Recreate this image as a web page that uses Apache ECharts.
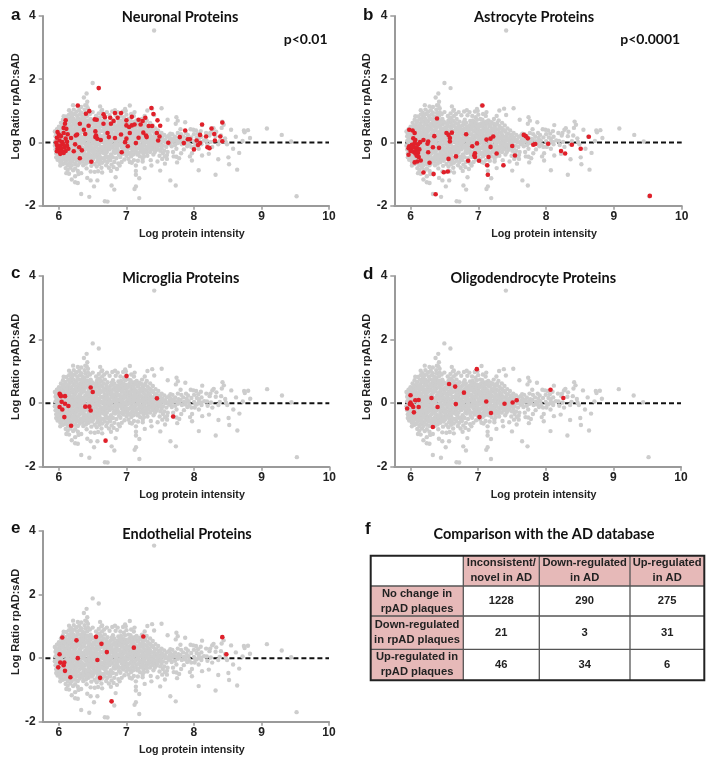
<!DOCTYPE html>
<html><head><meta charset="utf-8">
<style>html,body{margin:0;padding:0;background:#fff}#c{width:716px;height:766px}</style>
<script src="https://cdn.jsdelivr.net/npm/echarts@6/dist/echarts.min.js"></script>
</head><body><div id="c"></div>
<script>
const xTicks=[6,7,8,9,10];
const yTicks=[-2,0,2,4];
const panelLetters=['a','b','c','d','e'];
const panelTitles=['Neuronal Proteins','Astrocyte Proteins','Microglia Proteins','Oligodendrocyte Proteins','Endothelial Proteins'];
const greySparse=[[7.41,3.54],[6.5,1.88],[6.59,1.72],[6.41,1.55],[6.37,1.42],[6.42,1.29],[6.39,1.18],[6.21,1.18],[6.28,1.14],[6.33,1.12],[6.41,1.16],[6.61,1.14],[6.64,1.03],[7.05,1.17],[6.98,1.06],[7.12,.96],[7.31,1.01],[7.38,1.07],[7.52,1.08],[7.41,.87],[7.61,.72],[7.74,.8],[7.76,.69],[7.73,.59],[7.87,.64],[8.12,.55],[8.42,.66],[8.44,.56],[8.29,.45],[8.55,.4],[8.75,.32],[8.8,.39],[8.74,.38],[9.08,.44],[9.3,.24],[9.44,.03],[8.83,.14],[8.62,.18],[8.72,.05],[9.52,-1.7],[8.64,-.86],[8.32,-1.02],[8.07,-.88],[8.52,-.69],[8.51,-.47],[8.67,-.33],[8.58,-.2],[8.36,-.53],[8.22,-.36],[8.12,-.41],[7.97,-.57],[7.94,-.44],[7.65,-1.2],[7.73,-1.36],[7.19,-1.76],[7.14,-1.39],[7.12,-1.47],[7.14,-1.02],[7.19,-1.13],[7.14,-.9],[6.68,-1.86],[6.72,-1.87],[6.45,-1.72],[6.33,-1.63],[6.52,-1.39],[6.78,-1.36],[6.82,-1.49],[6.84,-1.1],[6.47,-1.2],[6.57,-1.2],[6.42,-1.12],[6.28,-1.28],[6.24,-1.26],[6.19,-1.17],[6.24,-1.07],[6.29,-1],[6.33,-.97],[6.15,-.99],[6.11,-.97],[6.1,-.81],[6.02,-.73],[6.63,-.8],[6.64,-.95],[6.74,-.8],[6.77,-.9],[6.53,-.93],[6.58,-.91],[6.47,-.92],[6.9,-.73],[7.14,-.73],[7.27,-.81],[7.37,-.73],[7.5,-.89],[7.46,-.6],[7.6,-.4],[7.75,-.63],[7.57,-.67],[7.05,-.62],[7.24,-.6]];
const greyDenseLeft=[[5.94,.35],[5.95,.2],[5.95,.05],[5.94,-.1],[5.95,-.22],[5.96,-.35],[5.96,-.47],[5.97,.42],[5.98,.28],[5.97,.12],[5.98,-.02],[5.97,-.18],[5.98,-.3],[5.99,-.44],[5.98,-.55],[6,.5],[6.01,.38],[6,.21],[6.01,.07],[6,-.08],[6.01,-.24],[6,-.38],[6.01,-.5],[6.02,-.62],[6.03,.62],[6.04,.45],[6.03,.3],[6.04,.14],[6.03,-.02],[6.04,-.16],[6.03,-.3],[6.05,-.44],[6.04,-.58],[6.06,-.68],[6.07,.83],[6.06,.72],[6.07,.55],[6.07,.38],[6.08,.22],[6.06,.06],[6.08,-.08],[6.07,-.24],[6.08,-.38],[6.07,-.52],[6.09,-.65],[6.11,.82],[6.1,.67],[6.11,.5],[6.11,.31],[6.1,.14],[6.11,-.03],[6.12,-.18],[6.1,-.32],[6.12,-.46],[6.11,-.58],[6.13,-.72],[6.13,-.87],[6.15,1.02],[6.15,.88],[6.14,.74],[6.15,.6],[6.14,.42],[6.15,.25],[6.14,.08],[6.16,-.1],[6.15,-.26],[6.14,-.4],[6.16,-.54],[6.15,-.66],[6.17,-.8],[6.18,.94],[6.18,.78],[6.19,.66],[6.18,.5],[6.19,.34],[6.18,.18],[6.19,.02],[6.18,-.14],[6.19,-.3],[6.18,-.46],[6.2,-.6],[6.19,-.72],[6.21,-.88],[6.22,1.04],[6.23,.9],[6.22,.74],[6.23,.58],[6.22,.42],[6.23,.26],[6.22,.1],[6.23,-.05],[6.22,-.22],[6.23,-.38],[6.22,-.52],[6.24,-.68],[6.24,-.82],[6.26,.97],[6.27,.84],[6.26,.68],[6.27,.52],[6.26,.36],[6.27,.18],[6.26,.03],[6.27,-.12],[6.26,-.28],[6.27,-.44],[6.26,-.58],[6.28,-.72],[6.28,-.9],[6.3,1.02],[6.31,.88],[6.3,.74],[6.31,.6],[6.3,.44],[6.31,.28],[6.3,.12],[6.31,-.02],[6.3,-.2],[6.31,-.35],[6.32,-.5],[6.31,-.64],[6.33,.94],[6.35,.82],[6.34,.66],[6.35,.5],[6.34,.33],[6.35,.16],[6.34,0],[6.35,-.16],[6.34,-.3],[6.36,-.44],[6.35,-.6],[6.36,-.72],[6.38,1.04],[6.39,.93],[6.38,.8],[6.39,.62],[6.38,.46],[6.39,.24],[6.38,.08],[6.4,-.08],[6.38,-.24],[6.4,-.38],[6.39,-.54],[6.4,-.67],[6.41,-.82],[6.43,1.08],[6.43,.96],[6.42,.84],[6.44,.7],[6.43,.55],[6.44,.38],[6.43,.2],[6.44,.02],[6.43,-.14],[6.44,-.3],[6.43,-.48],[6.44,-.62],[6.46,.9],[6.47,.74],[6.47,.58],[6.48,.42],[6.47,.24],[6.48,.08],[6.47,-.1],[6.48,-.26],[6.47,-.42],[6.49,-.58],[6.48,-.74],[6.5,.96],[6.51,.62],[6.51,.48],[6.52,.3],[6.51,.14],[6.52,-.04],[6.51,-.2],[6.52,-.36],[6.51,-.52],[6.53,-.68],[6.55,.84],[6.56,.7],[6.55,.52],[6.56,.36],[6.55,.18],[6.56,.02],[6.55,-.14],[6.57,-.3],[6.56,-.46],[6.57,-.6],[6.56,-.76],[6.59,.92],[6.6,.78],[6.59,.62],[6.6,.44],[6.59,.27],[6.6,.1],[6.59,-.06],[6.61,-.24],[6.6,-.4],[6.61,-.56],[6.6,-.68],[6.63,1],[6.64,.84],[6.63,.68],[6.64,.52],[6.63,.36],[6.64,.18],[6.63,.02],[6.65,-.14],[6.64,-.3],[6.66,-.5],[6.64,-.64],[6.67,.9],[6.68,.74],[6.67,.46],[6.68,.28],[6.67,.1],[6.68,-.08],[6.67,-.22],[6.69,-.38],[6.68,-.58],[6.7,-.72]];
const greyDenseRight=[[6.71,.96],[6.72,.66],[6.71,.5],[6.72,.36],[6.71,.2],[6.72,.04],[6.73,-.12],[6.71,-.3],[6.73,-.46],[6.72,-.62],[6.75,.86],[6.76,.54],[6.75,.4],[6.76,.26],[6.75,.08],[6.76,-.06],[6.75,-.22],[6.77,-.38],[6.76,-.56],[6.78,-.7],[6.79,.98],[6.8,.72],[6.79,.58],[6.8,.44],[6.79,.24],[6.8,.06],[6.79,-.14],[6.81,-.3],[6.8,-.47],[6.82,-.62],[6.81,-.78],[6.83,1.02],[6.84,.86],[6.83,.5],[6.85,.34],[6.83,.18],[6.84,.02],[6.85,-.16],[6.83,-.33],[6.85,-.5],[6.86,-.84],[6.87,.96],[6.88,.68],[6.87,.55],[6.88,.4],[6.87,.25],[6.88,.08],[6.89,-.07],[6.87,-.23],[6.89,-.4],[6.88,-.66],[6.91,.84],[6.92,.7],[6.91,.5],[6.93,.36],[6.91,.16],[6.92,0],[6.93,-.16],[6.91,-.46],[6.93,-.62],[6.95,.98],[6.96,.8],[6.95,.62],[6.96,.46],[6.97,.3],[6.95,.14],[6.96,-.02],[6.97,-.2],[6.95,-.36],[6.97,-.54],[6.99,1],[7,.88],[6.99,.58],[7,.42],[6.99,.26],[7.01,.08],[6.99,-.08],[7.01,-.26],[7,-.42],[7.03,.74],[7.04,.6],[7.03,.36],[7.04,.2],[7.03,.04],[7.05,-.18],[7.04,-.36],[7.03,-.52],[7.07,.9],[7.08,.64],[7.07,.42],[7.08,.22],[7.07,.08],[7.08,-.08],[7.09,-.26],[7.07,-.44],[7.08,-.64],[7.11,.84],[7.12,.66],[7.11,.46],[7.12,.28],[7.11,.14],[7.12,-.12],[7.13,-.3],[7.11,-.56],[7.15,.7],[7.16,.52],[7.15,.34],[7.16,.18],[7.17,.02],[7.15,-.2],[7.16,-.38],[7.17,-.58],[7.19,.64],[7.2,.44],[7.19,.26],[7.2,.08],[7.19,-.08],[7.21,-.26],[7.2,-.44],[7.23,.74],[7.24,.5],[7.23,.36],[7.24,.16],[7.25,0],[7.23,-.16],[7.25,-.34],[7.24,-.52],[7.27,.84],[7.28,.62],[7.27,.42],[7.28,.24],[7.29,.06],[7.27,-.1],[7.29,-.26],[7.31,.52],[7.32,.32],[7.31,.12],[7.33,-.04],[7.32,-.2],[7.31,-.42],[7.35,.62],[7.36,.42],[7.35,.24],[7.36,.06],[7.37,-.12],[7.35,-.3],[7.36,-.56],[7.39,.54],[7.4,.34],[7.41,.16],[7.39,0],[7.41,-.16],[7.4,-.38],[7.43,.44],[7.44,.28],[7.43,.1],[7.45,-.06],[7.44,-.24],[7.47,.38],[7.48,.24],[7.49,.08],[7.47,-.1],[7.49,-.42],[7.52,.3],[7.53,.14],[7.52,-.18],[7.54,-.34],[7.53,-.52],[7.56,.24],[7.57,.09],[7.56,-.26],[7.57,-.44],[7.59,-.14],[7.6,.18],[7.61,-.3],[7.6,-.52],[7.63,.22],[7.64,.08],[7.63,-.05],[7.65,.28],[7.66,.13],[7.67,-.12],[7.68,.26],[7.69,.04],[7.69,-.3],[7.7,-.44],[7.72,.18],[7.73,.05],[7.72,-.08],[7.74,-.2],[7.74,-.45],[7.76,.3],[7.77,.12],[7.76,-.02],[7.78,-.5],[7.8,.42],[7.81,.26],[7.8,.1],[7.82,-.06],[7.81,-.34],[7.84,.18],[7.85,.04],[7.85,-.22],[7.88,.3],[7.89,.14],[7.88,.02],[7.9,-.12],[7.91,.24],[7.92,.06],[7.93,-.06],[7.95,.42],[7.96,.16],[7.96,-.14],[7.97,-.34],[7.99,.4],[8,.26],[8,.04],[8.01,-.14],[8.03,.38],[8.04,.16],[8.04,-.04],[8.06,.28],[8.07,.12],[8.07,.02],[8.07,-.2],[8.1,.36],[8.11,.18],[8.11,-.06],[8.15,.06],[8.18,.3],[8.19,.05],[8.2,-.08],[8.23,.22],[8.24,.3],[8.25,.02],[8.27,-.14],[8.27,.4],[8.32,.2],[8.33,.34],[8.36,-.06],[8.38,.04],[8.4,.22],[8.41,.46],[8.46,.13],[8.47,.02],[8.49,-.06]];
const greyDenseFill=[[5.96,.28],[5.99,.05],[5.99,-.13],[6.02,.43],[6.02,.25],[6.02,.02],[6.02,-.2],[6.05,.52],[6.05,.36],[6.05,.2],[6.05,-.09],[6.05,-.36],[6.09,.62],[6.09,.45],[6.09,.28],[6.09,.1],[6.09,-.13],[6.09,-.29],[6.1,-.44],[6.13,.54],[6.13,.36],[6.13,.18],[6.13,0],[6.13,-.14],[6.13,-.3],[6.13,-.52],[6.16,.7],[6.17,.46],[6.16,.3],[6.17,.12],[6.17,-.05],[6.17,-.2],[6.17,-.38],[6.17,-.62],[6.2,.85],[6.21,.56],[6.2,.4],[6.21,.22],[6.2,.06],[6.21,-.09],[6.2,-.24],[6.2,-.42],[6.24,.64],[6.25,.47],[6.24,.3],[6.25,.14],[6.24,-.02],[6.25,-.18],[6.24,-.33],[6.25,-.48],[6.28,.76],[6.29,.58],[6.28,.4],[6.29,.22],[6.28,.07],[6.29,-.07],[6.28,-.24],[6.29,-.4],[6.29,-.56],[6.33,.72],[6.32,.54],[6.33,.38],[6.32,.2],[6.33,.05],[6.32,-.1],[6.33,-.26],[6.33,-.56],[6.37,.72],[6.36,.56],[6.37,.38],[6.37,.15],[6.37,-.02],[6.36,-.2],[6.37,-.35],[6.37,-.5],[6.41,.7],[6.41,.5],[6.41,.32],[6.41,.12],[6.42,-.04],[6.41,-.2],[6.41,-.44],[6.41,-.58],[6.45,.62],[6.45,.46],[6.45,.3],[6.46,.13],[6.45,-.06],[6.45,-.22],[6.45,-.38],[6.46,-.54],[6.49,.66],[6.5,.34],[6.49,.18],[6.5,0],[6.49,-.16],[6.5,-.3],[6.49,-.46],[6.54,.6],[6.53,.44],[6.54,.25],[6.53,.08],[6.54,-.08],[6.53,-.26],[6.54,-.42],[6.58,.76],[6.58,.5],[6.58,.32],[6.57,.14],[6.58,-.02],[6.58,-.2],[6.58,-.36],[6.58,-.52],[6.62,.7],[6.62,.55],[6.62,.36],[6.62,.2],[6.62,.04],[6.62,-.13],[6.62,-.3],[6.62,-.48],[6.66,.62],[6.66,.38],[6.66,.2],[6.66,.02],[6.66,-.16],[6.66,-.33],[6.7,.58],[6.7,.4],[6.7,.26],[6.69,.12],[6.7,-.02],[6.7,-.18],[6.7,-.46],[6.74,.45],[6.74,.3],[6.74,.12],[6.74,-.02],[6.74,-.18],[6.74,-.5],[6.78,.64],[6.78,.34],[6.78,.18],[6.78,.02],[6.78,-.16],[6.78,-.44],[6.82,.62],[6.82,.42],[6.82,.26],[6.82,.1],[6.82,-.08],[6.82,-.24],[6.86,.46],[6.86,.28],[6.86,.12],[6.86,-.02],[6.86,-.14],[6.86,-.3],[6.9,.6],[6.9,.42],[6.9,.26],[6.9,.1],[6.9,-.08],[6.9,-.3],[6.94,.54],[6.94,.38],[6.94,.22],[6.94,.06],[6.94,-.1],[6.94,-.28],[6.98,.72],[6.98,.5],[6.98,.34],[6.98,.18],[6.98,.02],[6.98,-.14],[6.98,-.3],[7.02,.5],[7.02,.28],[7.02,.12],[7.02,-.04],[7.02,-.18],[7.02,-.34],[7.06,.72],[7.06,.52],[7.06,.32],[7.06,.15],[7.06,0],[7.06,-.14],[7.06,-.32],[7.1,.56],[7.1,.36],[7.1,.2],[7.1,.03],[7.1,-.18],[7.1,-.38],[7.14,.6],[7.14,.4],[7.14,.24],[7.14,.08],[7.14,-.06],[7.14,-.28],[7.18,.54],[7.18,.34],[7.18,.14],[7.18,-.02],[7.18,-.18],[7.18,-.34],[7.22,.6],[7.22,.42],[7.22,.22],[7.22,.06],[7.22,-.1],[7.22,-.28],[7.26,.56],[7.26,.3],[7.26,.12],[7.26,-.06],[7.26,-.22],[7.26,-.44],[7.3,.7],[7.3,.4],[7.3,.2],[7.3,.02],[7.3,-.14],[7.3,-.32],[7.34,.46],[7.34,.3],[7.34,.14],[7.34,0],[7.34,-.14],[7.38,.38],[7.38,.18],[7.38,.05],[7.38,-.06],[7.38,-.22],[7.42,.24],[7.42,.06],[7.42,-.08],[7.42,-.3],[7.46,.14],[7.46,.02],[7.46,-.18],[7.5,.2],[7.5,.02],[7.5,-.08],[7.5,-.26],[7.54,.04],[7.54,-.1],[7.58,0],[7.62,.02],[7.66,0],[7.7,.1],[7.78,.02],[7.87,-.04],[8.02,-.04],[8.1,.02]];
const redA=[[6.59,1.72],[6.28,1.17],[7.37,1.09],[6.45,.99],[6.4,.91],[7.4,.9],[6.66,.89],[6.68,.8],[6.83,.93],[6.92,.93],[6.76,.78],[6.87,.78],[6.81,.68],[6.77,.59],[6.66,.59],[7,.7],[7.08,.81],[7.18,.72],[7.28,.78],[7.24,.68],[7.21,.57],[7.12,.57],[7.08,.54],[7.04,.49],[7,.54],[7.33,.52],[7.38,.52],[7.46,.7],[7.5,.53],[8.12,.57],[8.42,.63],[8.26,.44],[7.87,.38],[8.3,.27],[8.09,.24],[8.18,.19],[8.39,.19],[8.42,.04],[8.31,.06],[7.79,.17],[7.91,.1],[7.94,.1],[8.04,.06],[7.85,-.02],[7.62,-.01],[8.09,-.02],[8.06,-.08],[8,-.22],[8.2,-.15],[8.23,-.18],[7.45,.3],[7.49,.19],[7.47,.06],[6.56,.72],[6.53,.73],[6.31,.59],[6.44,.53],[6.37,.4],[6.39,.27],[6.27,.25],[6.25,.22],[6.54,.35],[6.55,.22],[6.54,.17],[6.57,.12],[6.62,.08],[6.72,.3],[6.74,.17],[6.83,.14],[6.92,.25],[7,.12],[6.98,.01],[7.02,-.12],[7.14,-.02],[7.18,.15],[7.05,.3],[7.25,.31],[7.29,.22],[7.3,.17],[6.93,-.31],[6.48,-.61],[6.31,-.5],[6.34,-.25],[6.3,-.15],[6.24,-.06],[6.22,-.28],[6.18,.14],[6.1,.7],[6.09,.59],[6.11,.43],[6.07,.46],[5.98,.33],[6,.25],[5.97,.15],[6.03,.2],[6.07,.3],[6.01,.06],[5.96,0],[6.05,.01],[6.1,.12],[5.97,-.08],[6.02,-.1],[6.06,-.06],[5.98,-.18],[6.03,-.2],[6.08,-.15],[5.97,-.28],[6.01,-.3],[6.05,-.28],[6.1,-.27],[6.14,-.2],[6.02,-.36],[6.07,-.33],[6.12,.02],[6.13,.26],[6.12,-.1]];
const redB=[[7.06,1.17],[6.39,.76],[5.98,.4],[6.03,.38],[6.06,.3],[6.35,.2],[6.53,.3],[6.56,.24],[6.58,.14],[6.61,.31],[6.58,.03],[6.82,.26],[7.22,.19],[7.18,.12],[7.12,.09],[6.98,-.03],[6.91,-.12],[7.18,-.14],[6.95,-.34],[6.94,-.41],[6.95,-.46],[6.85,-.58],[7.01,-.58],[6.67,-.44],[6.56,-.52],[6.42,-.17],[6.33,-.15],[6.26,-.31],[6.28,-.64],[6.15,-.57],[6.19,-.95],[6.34,-1],[6.49,-.94],[6.55,-.92],[6.37,-1.64],[7.15,-.46],[7.13,-.72],[7.14,-1.02],[7.27,-.35],[7.37,-.72],[7.5,-.11],[7.54,-.41],[7.67,.24],[7.7,.2],[7.73,.13],[7.81,-.07],[7.84,-.05],[8.03,-.04],[8.38,-.07],[8.22,-.27],[8.28,-.35],[8.51,-.2],[8.63,.18],[9.53,-1.69],[6.19,.08],[6.26,.03],[6.25,-.04],[6.14,.01],[6.11,-.06],[6.04,.13],[6.07,.08],[5.98,-.12],[6.02,-.07],[6.06,-.02],[5.97,-.18],[6.01,-.2],[6.05,-.14],[6.09,-.16],[6.13,-.22],[6,-.27],[6.04,-.29],[6.08,-.26],[5.97,-.39],[6.07,-.35],[6.11,-.33],[6.09,-.42],[6.12,-.46],[6.06,-.63],[6.1,-.6]];
const redC=[[7,.85],[6.47,.49],[6.5,.35],[7.45,.15],[6.01,.29],[6.03,.22],[6.09,.22],[6.02,.26],[6.04,.04],[6.09,-.02],[6.14,-.09],[6.01,-.12],[6.05,-.2],[6.08,-.44],[6.18,-.71],[6.39,-.11],[6.45,-.11],[6.47,-.23],[6.69,-1.18],[7.69,-.42]];
const redD=[[6.98,1.07],[6.57,.6],[6.66,.52],[6.79,.33],[8.07,.42],[8.26,.16],[6.31,.16],[6,.25],[6.07,.09],[6.12,.1],[6,.02],[5.99,-.03],[6.02,-.06],[5.95,-.17],[6.05,-.29],[6.04,-.12],[6.12,-.12],[6.4,-.12],[6.67,-.03],[6.33,-.75],[7.02,-.44],[7.19,-.31],[7.12,.05],[7.39,-.02],[7.51,.02],[7.57,.09]];
const redE=[[6.05,.65],[6.26,.56],[6.55,.67],[6.63,.45],[6.71,.19],[7.25,.68],[7.11,.33],[8.42,.66],[8.48,.12],[6.01,.12],[6.28,0],[6.57,-.06],[6.02,-.14],[6.08,-.14],[6.07,-.22],[5.99,-.29],[6.09,-.4],[6.17,-.6],[6.61,-.62],[6.78,-1.36]];
const redPoints=[redA,redB,redC,redD,redE];
const pValues=['p<0.01','p<0.0001','','',''];
const tableColumns=['','Inconsistent/\nnovel in AD','Down-regulated\nin AD','Up-regulated\nin AD'];
const tableRows=['No change in\nrpAD plaques','Down-regulated\nin rpAD plaques','Up-regulated in\nrpAD plaques'];
const tableValues=[[1228,290,275],[21,3,31],[46,34,6]];

const greyAll=greySparse.concat(greyDenseLeft,greyDenseRight,greyDenseFill);
const boxes=[
 {l:42.7,r:329,t:16,b:205.7,x0:5.76,lx:11,ly:7,cx:180,ty:17},
 {l:394.3,r:681.7,t:16,b:205.7,x0:5.76,lx:363,ly:7,cx:534,ty:17},
 {l:42.7,r:329.3,t:276,b:466.7,x0:5.76,lx:11,ly:265,cx:180.7,ty:278},
 {l:394.3,r:681,t:276,b:466.7,x0:5.76,lx:363,ly:266,cx:533.3,ty:278},
 {l:42.7,r:329,t:531,b:721.7,x0:5.76,lx:11,ly:520,cx:187,ty:534}
];
const labelFont='"Liberation Sans",Arial,sans-serif';
const titleFont='Lato,"Open Sans",sans-serif';
const tickStyle={color:'#9a9a9a',width:2};
const grids=[],xs=[],ys=[],series=[],graphic=[];
boxes.forEach((b,i)=>{
 grids.push({left:b.l,top:b.t,width:b.r-b.l,height:b.b-b.t});
 xs.push({type:'value',gridIndex:i,min:b.x0,max:10,splitLine:{show:false},
  axisLine:{onZero:false,lineStyle:tickStyle},
  axisTick:{length:4,lineStyle:{color:'#9a9a9a',width:1.5},customValues:xTicks},
  axisLabel:{customValues:xTicks,color:'#222',fontFamily:labelFont,fontWeight:'bold',fontSize:12,margin:5,formatter:v=>String(v),showMinLabel:true,showMaxLabel:true},
  name:'Log protein intensity',nameLocation:'middle',nameGap:23,
  nameTextStyle:{color:'#222',fontFamily:labelFont,fontWeight:'bold',fontSize:10.7,padding:[0,0,0,12]}});
 ys.push({type:'value',gridIndex:i,min:-2,max:4,splitLine:{show:false},
  axisLine:{onZero:false,lineStyle:tickStyle},
  axisTick:{length:4,lineStyle:{color:'#9a9a9a',width:1.5},customValues:yTicks},
  axisLabel:{customValues:yTicks,color:'#222',fontFamily:labelFont,fontWeight:'bold',fontSize:12,margin:7,formatter:v=>String(v),showMinLabel:true,showMaxLabel:true},
  name:'Log Ratio rpAD:sAD',nameLocation:'middle',nameGap:21,
  nameTextStyle:{color:'#222',fontFamily:labelFont,fontWeight:'bold',fontSize:11,padding:[0,0,0,9]}});
 series.push({type:'line',xAxisIndex:i,yAxisIndex:i,z:1,silent:true,symbol:'none',data:[[5.8,0],[10,0]],
  lineStyle:{color:'#111',width:2,type:[5,3]}});
 series.push({type:'scatter',xAxisIndex:i,yAxisIndex:i,z:2,silent:true,symbolSize:4.4,data:greyAll,
  itemStyle:{color:'#cdcdcd',opacity:1}});
 series.push({type:'scatter',xAxisIndex:i,yAxisIndex:i,z:3,silent:true,symbolSize:4.6,data:redPoints[i],
  itemStyle:{color:'#e0202a',opacity:1}});
 graphic.push({type:'text',x:b.lx,y:b.ly,style:{text:panelLetters[i],font:'bold 17px '+labelFont,fill:'#111'}});
 graphic.push({type:'text',x:b.cx,y:b.ty,style:{text:panelTitles[i],font:'bold 14.5px '+titleFont,fill:'#111',textAlign:'center',textVerticalAlign:'middle'}});
 if(pValues[i]) graphic.push({type:'text',x:b.r-1.5,y:39.5,style:{text:pValues[i],font:'bold 14px '+titleFont,fill:'#111',textAlign:'right',textVerticalAlign:'middle'}});
});
/* table f */
const colX=[370.7,463.3,539.3,630,704.3], rowY=[555.7,586,616,649.3,680.3];
const pink='#e6b9b8';
graphic.push({type:'text',x:365,y:521,style:{text:'f',font:'bold 17px '+labelFont,fill:'#111'}});
graphic.push({type:'text',x:544,y:534,style:{text:'Comparison with the AD database',font:'bold 14.5px '+titleFont,fill:'#111',textAlign:'center',textVerticalAlign:'middle'}});
function cell(r,c,text,bg){
 const x=colX[c],y=rowY[r],w=colX[c+1]-x,h=rowY[r+1]-y;
 if(bg) graphic.push({type:'rect',shape:{x,y,width:w,height:h},style:{fill:bg},z:1});
 if(text!=='') graphic.push({type:'text',x:x+w/2,y:y+h/2,z:3,style:{text:String(text),font:'bold 11.2px '+labelFont,fill:'#222',textAlign:'center',textVerticalAlign:'middle',lineHeight:15}});
}
tableColumns.forEach((t,c)=>cell(0,c,t,c?pink:null));
tableRows.forEach((t,r)=>{cell(r+1,0,t,pink);tableValues[r].forEach((v,c)=>cell(r+1,c+1,v,null));});
colX.slice(1,-1).forEach(x=>graphic.push({type:'line',z:2,shape:{x1:x,y1:rowY[0],x2:x,y2:rowY[4]},style:{stroke:'#555',lineWidth:1.3}}));
rowY.slice(1,-1).forEach(y=>graphic.push({type:'line',z:2,shape:{x1:colX[0],y1:y,x2:colX[4],y2:y},style:{stroke:'#555',lineWidth:1.3}}));
graphic.push({type:'rect',z:4,shape:{x:colX[0],y:rowY[0],width:colX[4]-colX[0],height:rowY[4]-rowY[0]},style:{fill:'none',stroke:'#222',lineWidth:2}});

const chart=echarts.init(document.getElementById('c'),null,{renderer:'canvas'});
chart.setOption({animation:false,backgroundColor:'#fff',grid:grids,xAxis:xs,yAxis:ys,series,graphic:{elements:graphic}});
</script></body></html>
